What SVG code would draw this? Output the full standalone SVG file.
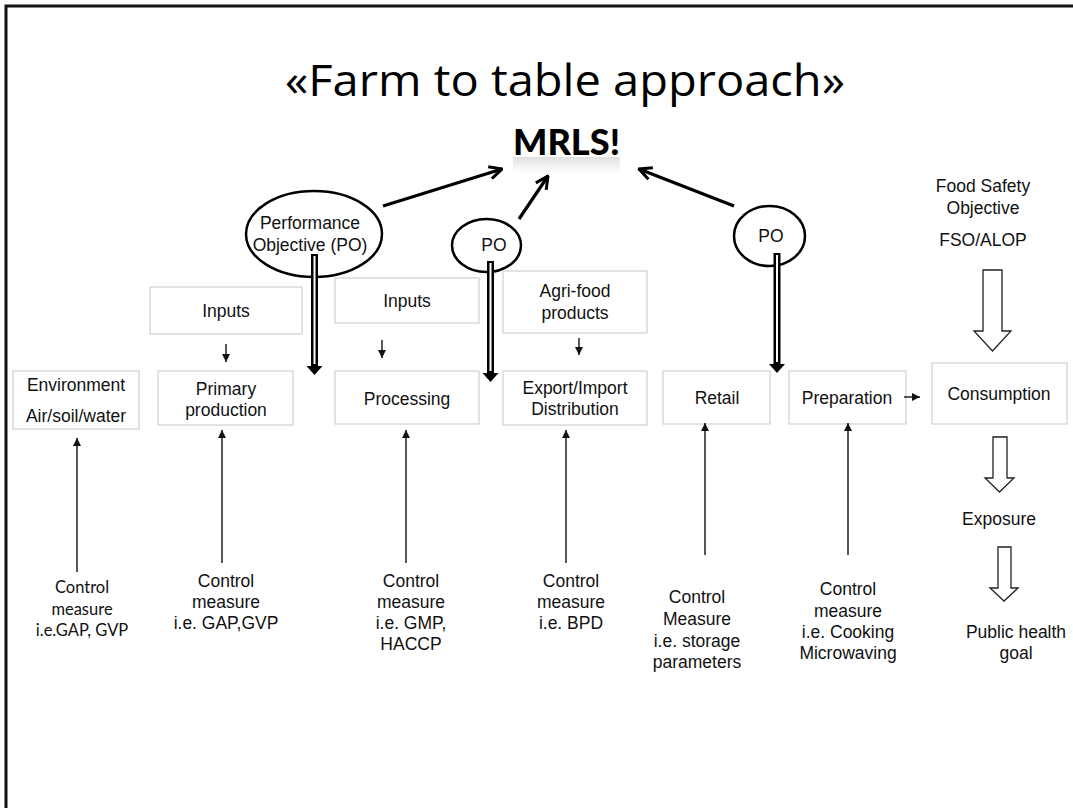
<svg xmlns="http://www.w3.org/2000/svg" width="1073" height="808" viewBox="0 0 1073 808">
<style>
  .t { font-family: "Liberation Sans", Arial, sans-serif; font-size: 17.5px; fill: #111; text-anchor: middle; }
  .c { font-family: Lato, "Open Sans", sans-serif; font-size: 16.5px; fill: #111; text-anchor: middle; }
  .box { fill: #fff; stroke: #d4d4d4; stroke-width: 1.3; }
  .ell { fill: #fff; stroke: #000; stroke-width: 2.5; }
  .thin { stroke: #111; stroke-width: 1.4; fill: none; }
  .bold { stroke: #000; stroke-width: 3.2; fill: none; }
  .hollow { fill: #fff; stroke: #222; stroke-width: 1.3; }
</style>
<defs>
  <marker id="open" viewBox="0 0 12 12" refX="11" refY="6" markerWidth="15" markerHeight="15" markerUnits="userSpaceOnUse" orient="auto">
    <path d="M1,1 L11,6 L1,11" fill="none" stroke="#000" stroke-width="2.4"/>
  </marker>
  <marker id="tri" viewBox="0 0 10 10" refX="10" refY="5" markerWidth="8" markerHeight="8" markerUnits="userSpaceOnUse" orient="auto">
    <path d="M0,0 L10,5 L0,10 Z" fill="#111"/>
  </marker>
  <linearGradient id="fade" x1="0" y1="0" x2="0" y2="1">
    <stop offset="0" stop-color="#000" stop-opacity="0.12"/>
    <stop offset="1" stop-color="#000" stop-opacity="0"/>
  </linearGradient>
</defs>
<rect width="1073" height="808" fill="#fff"/>
<path d="M6,808 V6 H1073" fill="none" stroke="#111" stroke-width="3"/>

<g id="title">
  <text x="565" y="96" font-family="'Open Sans', Lato, sans-serif" font-size="44" font-weight="400" text-anchor="middle" textLength="560" lengthAdjust="spacingAndGlyphs" fill="#000">«Farm to table approach»</text>
</g>
<g id="mrls">
  <text x="566.5" y="155" font-family="Lato, 'Open Sans', sans-serif" font-size="36" font-weight="900" text-anchor="middle" textLength="107" lengthAdjust="spacingAndGlyphs" fill="#000">MRLS!</text>
  <rect x="513" y="157" width="107" height="16" fill="url(#fade)"/>
</g>

<g id="po1">
  <ellipse class="ell" cx="314" cy="234" rx="68" ry="43"/>
  <text class="t" x="310" y="229">Performance</text>
  <text class="t" x="310" y="251">Objective (PO)</text>
</g>
<g id="po2">
  <ellipse class="ell" cx="486.5" cy="245.5" rx="34.5" ry="26.5"/>
  <text class="t" x="494" y="251">PO</text>
</g>
<g id="po3">
  <ellipse class="ell" cx="769.5" cy="236" rx="35.5" ry="30"/>
  <text class="t" x="771" y="242">PO</text>
</g>

<g id="fso">
  <text class="t" x="983" y="192">Food Safety</text>
  <text class="t" x="983" y="214">Objective</text>
  <text class="t" x="983" y="246">FSO/ALOP</text>
</g>

<g id="inputs1">
  <rect class="box" x="150" y="287" width="152" height="47"/>
  <text class="t" x="226" y="317">Inputs</text>
</g>
<g id="inputs2">
  <rect class="box" x="335" y="278" width="144" height="45"/>
  <text class="t" x="407" y="307">Inputs</text>
</g>
<g id="agrifood">
  <rect class="box" x="503" y="271" width="144" height="62"/>
  <text class="t" x="575" y="297">Agri-food</text>
  <text class="t" x="575" y="319">products</text>
</g>

<g id="environment">
  <rect class="box" x="13" y="371" width="126" height="58"/>
  <text class="t" x="76" y="391">Environment</text>
  <text class="t" x="76" y="422">Air/soil/water</text>
</g>
<g id="primary">
  <rect class="box" x="158" y="371" width="135" height="54"/>
  <text class="t" x="226" y="395">Primary</text>
  <text class="t" x="226" y="416">production</text>
</g>
<g id="processing">
  <rect class="box" x="335" y="371" width="144" height="53"/>
  <text class="t" x="407" y="405">Processing</text>
</g>
<g id="export">
  <rect class="box" x="503" y="371" width="144" height="54"/>
  <text class="t" x="575" y="394">Export/Import</text>
  <text class="t" x="575" y="415">Distribution</text>
</g>
<g id="retail">
  <rect class="box" x="663" y="371" width="107" height="53"/>
  <text class="t" x="717" y="404">Retail</text>
</g>
<g id="preparation">
  <rect class="box" x="789" y="371" width="117" height="53"/>
  <text class="t" x="847" y="404">Preparation</text>
</g>
<g id="consumption">
  <rect class="box" x="932" y="363" width="135" height="61"/>
  <text class="t" x="999" y="400">Consumption</text>
</g>
<g id="exposure">
  <text class="t" x="999" y="525">Exposure</text>
</g>
<g id="publichealth">
  <text class="t" x="1016" y="638">Public health</text>
  <text class="t" x="1016" y="659">goal</text>
</g>

<g id="cm-env">
  <text class="c" x="82" y="593">Control</text>
  <text class="c" x="82" y="615">measure</text>
  <text class="c" x="82" y="636">i.e.GAP, GVP</text>
</g>
<g id="cm-primary">
  <text class="t" x="226" y="587">Control</text>
  <text class="t" x="226" y="608">measure</text>
  <text class="t" x="226" y="629">i.e. GAP,GVP</text>
</g>
<g id="cm-processing">
  <text class="t" x="411" y="587">Control</text>
  <text class="t" x="411" y="608">measure</text>
  <text class="t" x="411" y="629">i.e. GMP,</text>
  <text class="t" x="411" y="650">HACCP</text>
</g>
<g id="cm-export">
  <text class="t" x="571" y="587">Control</text>
  <text class="t" x="571" y="608">measure</text>
  <text class="t" x="571" y="629">i.e. BPD</text>
</g>
<g id="cm-retail">
  <text class="t" x="697" y="603">Control</text>
  <text class="t" x="697" y="625">Measure</text>
  <text class="t" x="697" y="647">i.e. storage</text>
  <text class="t" x="697" y="668">parameters</text>
</g>
<g id="cm-prep">
  <text class="t" x="848" y="595">Control</text>
  <text class="t" x="848" y="617">measure</text>
  <text class="t" x="848" y="638">i.e. Cooking</text>
  <text class="t" x="848" y="659">Microwaving</text>
</g>

<g id="connectors">
  <line class="bold" x1="383" y1="206" x2="502" y2="169" marker-end="url(#open)"/>
  <line class="bold" x1="519" y1="219" x2="548" y2="176" marker-end="url(#open)"/>
  <line class="bold" x1="734" y1="206" x2="639" y2="169" marker-end="url(#open)"/>
  <g fill="#000">
    <rect x="311" y="254" width="7" height="113"/>
    <rect x="487" y="261" width="7" height="113"/>
    <rect x="773.5" y="253" width="7" height="112"/>
    <path d="M306.5,366 H322.5 L314.5,375 Z"/>
    <path d="M482.5,373 H498.5 L490.5,382 Z"/>
    <path d="M769,364 H785 L777,373 Z"/>
  </g>
  <g fill="#fff">
    <rect x="313.5" y="256" width="2" height="108"/>
    <rect x="489.5" y="263" width="2" height="108"/>
    <rect x="776" y="255" width="2" height="107"/>
  </g>
  <line class="thin" x1="226" y1="344" x2="226" y2="362" marker-end="url(#tri)"/>
  <line class="thin" x1="382" y1="340" x2="382" y2="358" marker-end="url(#tri)"/>
  <line class="thin" x1="579" y1="338" x2="579" y2="355" marker-end="url(#tri)"/>
  <line class="thin" x1="904" y1="397" x2="920" y2="397" marker-end="url(#tri)"/>
  <line class="thin" x1="77" y1="572" x2="77" y2="438" marker-end="url(#tri)"/>
  <line class="thin" x1="222" y1="563" x2="222" y2="430" marker-end="url(#tri)"/>
  <line class="thin" x1="406" y1="563" x2="406" y2="430" marker-end="url(#tri)"/>
  <line class="thin" x1="566" y1="563" x2="566" y2="430" marker-end="url(#tri)"/>
  <line class="thin" x1="705" y1="555" x2="705" y2="423" marker-end="url(#tri)"/>
  <line class="thin" x1="848" y1="555" x2="848" y2="423" marker-end="url(#tri)"/>
  <path class="hollow" d="M983,270 H1002 V331 H1011 L992.5,351 L974,331 H983 Z"/>
  <path class="hollow" d="M993,437 H1007 V478 H1014 L999.5,492 L985,478 H993 Z"/>
  <path class="hollow" d="M998,547 H1011 V588 H1018 L1004,601 L990,588 H998 Z"/>
</g>
</svg>
